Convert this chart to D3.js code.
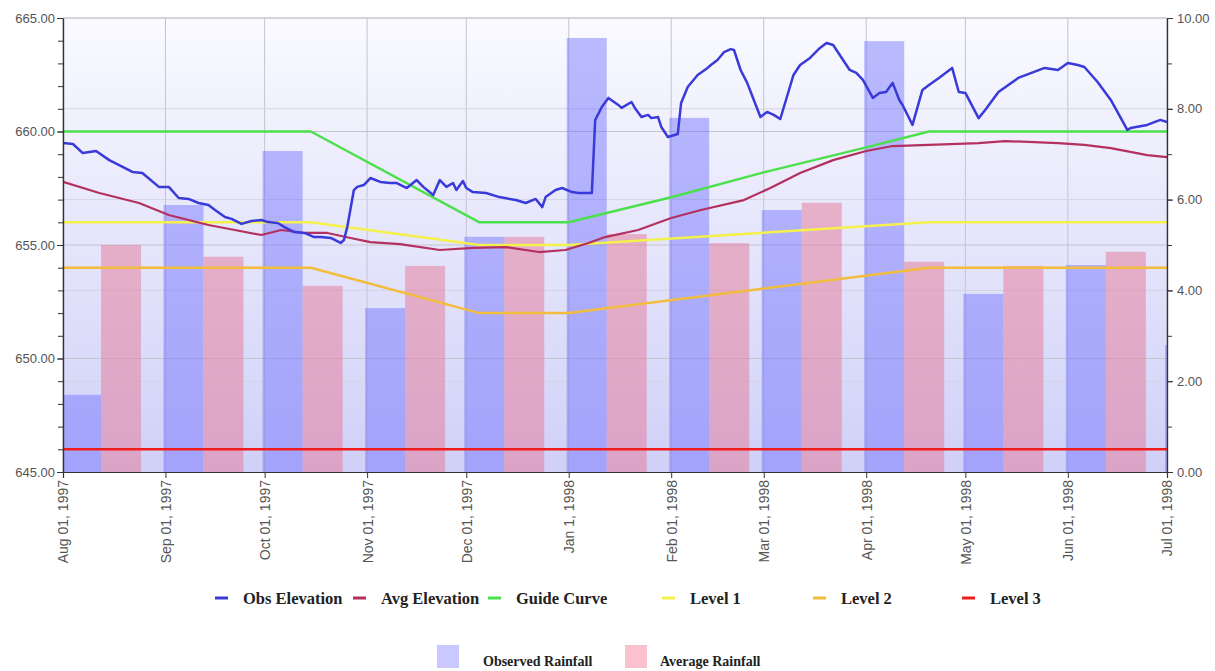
<!DOCTYPE html>
<html>
<head>
<meta charset="utf-8">
<script src="https://cdn.jsdelivr.net/npm/d3@7"></script>
<style>
  body { margin: 0; background: #fff; }
  svg { display: block; }
</style>
</head>
<body>
<div id="chart"></div>
<script>
// ---- data ----
const tickDates = ["1997-08-01","1997-09-01","1997-10-01","1997-11-01","1997-12-01","1998-01-01",
  "1998-02-01","1998-03-01","1998-04-01","1998-05-01","1998-06-01","1998-07-01"];
const tickLabels = ["Aug 01, 1997","Sep 01, 1997","Oct 01, 1997","Nov 01, 1997","Dec 01, 1997","Jan 1, 1998",
  "Feb 01, 1998","Mar 01, 1998","Apr 01, 1998","May 01, 1998","Jun 01, 1998","Jul 01, 1998"];

const rainMonths = tickDates;
const observedRain = [1.70, 5.88, 7.07, 3.61, 5.18, 9.56, 7.80, 5.77, 9.49, 3.92, 4.56, 2.80];
const averageRain  = [5.00, 4.74, 4.10, 4.54, 5.18, 5.24, 5.04, 5.93, 4.63, 4.54, 4.85];

const obsDates = ["1997-08-01","1997-08-04","1997-08-07","1997-08-11","1997-08-15","1997-08-18","1997-08-22",
  "1997-08-25","1997-08-30","1997-09-02","1997-09-05","1997-09-08","1997-09-11","1997-09-14","1997-09-16",
  "1997-09-19","1997-09-21","1997-09-24","1997-09-27","1997-09-30","1997-10-02","1997-10-05","1997-10-07",
  "1997-10-10","1997-10-13","1997-10-16","1997-10-18","1997-10-21","1997-10-24","1997-10-25","1997-10-26",
  "1997-10-28","1997-10-29","1997-10-31","1997-11-02","1997-11-05","1997-11-08","1997-11-10","1997-11-13",
  "1997-11-16","1997-11-18","1997-11-21","1997-11-23","1997-11-25","1997-11-27","1997-11-28","1997-11-30",
  "1997-12-01","1997-12-03","1997-12-07","1997-12-11","1997-12-16","1997-12-19","1997-12-22","1997-12-24",
  "1997-12-25","1997-12-28","1997-12-30","1998-01-02","1998-01-04","1998-01-07","1998-01-08","1998-01-09",
  "1998-01-11","1998-01-13","1998-01-16","1998-01-17","1998-01-20","1998-01-21","1998-01-23","1998-01-25",
  "1998-01-26","1998-01-28","1998-01-29","1998-01-31","1998-02-03","1998-02-04","1998-02-06","1998-02-09",
  "1998-02-12","1998-02-13","1998-02-15","1998-02-17","1998-02-19","1998-02-20","1998-02-22","1998-02-24",
  "1998-02-26","1998-02-28","1998-03-02","1998-03-04","1998-03-06","1998-03-08","1998-03-10","1998-03-12",
  "1998-03-15","1998-03-18","1998-03-20","1998-03-22","1998-03-25","1998-03-27","1998-03-29","1998-03-31",
  "1998-04-03","1998-04-05","1998-04-07","1998-04-09","1998-04-11","1998-04-12","1998-04-15","1998-04-18",
  "1998-04-20","1998-04-23","1998-04-27","1998-04-29","1998-05-01","1998-05-05","1998-05-07","1998-05-11",
  "1998-05-17","1998-05-25","1998-05-29","1998-06-01","1998-06-04","1998-06-06","1998-06-10","1998-06-14",
  "1998-06-19","1998-06-20","1998-06-25","1998-06-29","1998-07-01"];
const obsElevation = [659.49,659.45,659.05,659.14,658.74,658.52,658.22,
  658.17,657.56,657.56,657.07,657.03,656.85,656.76,656.54,
  656.23,656.15,655.93,656.06,656.10,656.01,655.97,655.79,
  655.57,655.53,655.35,655.35,655.31,655.09,655.22,655.79,
  657.42,657.56,657.64,657.95,657.78,657.73,657.73,657.51,
  657.86,657.56,657.20,657.86,657.56,657.73,657.42,657.82,
  657.51,657.33,657.29,657.11,656.98,656.85,657.03,656.67,
  657.11,657.42,657.51,657.33,657.29,657.29,657.29,660.50,
  661.08,661.48,661.17,661.04,661.30,661.04,660.64,660.73,
  660.59,660.64,660.20,659.76,659.89,661.26,661.96,662.49,
  662.80,662.93,663.15,663.50,663.63,663.59,662.71,662.14,
  661.39,660.64,660.86,660.73,660.55,661.52,662.49,662.93,
  663.24,663.68,663.90,663.81,663.15,662.71,662.58,662.27,
  661.48,661.70,661.74,662.14,661.39,661.17,660.29,661.83,
  662.05,662.36,662.80,661.74,661.70,660.59,660.95,661.74,
  662.36,662.80,662.71,663.02,662.93,662.84,662.18,661.39,
  660.07,660.15,660.29,660.51,660.42];

const avgDates = ["1997-08-01","1997-08-12","1997-08-24","1997-09-02","1997-09-08","1997-09-14","1997-09-22",
  "1997-09-30","1997-10-06","1997-10-13","1997-10-20","1997-10-27","1997-11-02","1997-11-11","1997-11-23",
  "1997-12-03","1997-12-13","1997-12-23","1997-12-31","1998-01-07","1998-01-12","1998-01-22","1998-02-01",
  "1998-02-10","1998-02-23","1998-03-03","1998-03-12","1998-03-22","1998-04-01","1998-04-09","1998-04-20",
  "1998-05-05","1998-05-13","1998-05-20","1998-05-29","1998-06-06","1998-06-14","1998-06-25","1998-07-01"];
const avgElevation = [657.78,657.29,656.85,656.32,656.10,655.88,655.66,
  655.44,655.66,655.53,655.53,655.31,655.13,655.04,654.78,
  654.87,654.91,654.69,654.78,655.09,655.35,655.66,656.19,
  656.54,656.98,657.51,658.17,658.74,659.14,659.36,659.41,
  659.49,659.58,659.54,659.49,659.41,659.27,658.96,658.87];

const guideDates = ["1997-08-01","1997-10-15","1997-12-05","1998-01-01","1998-02-01","1998-03-01","1998-04-01","1998-04-20","1998-07-01"];
const guideCurve = [660, 660, 656, 656, 657.1, 658.2, 659.3, 660, 660];

const levelDates = ["1997-08-01","1997-10-15","1997-12-05","1998-01-01","1998-04-20","1998-07-01"];
const level1 = [656, 656, 655, 655, 656, 656];
const level2 = [654, 654, 652, 652, 654, 654];
const level3 = [646, 646, 646, 646, 646, 646];

// ---- layout ----
const W = 1215, H = 671;
const margin = {top: 18, right: 48, bottom: 199, left: 63};
const width = W - margin.left - margin.right;
const height = H - margin.top - margin.bottom;
const parse = d3.timeParse("%Y-%m-%d");

const x = d3.scaleTime().domain([parse(tickDates[0]), parse(tickDates[tickDates.length - 1])]).range([0, width]);
const yL = d3.scaleLinear().domain([645, 665]).range([height, 0]);
const yR = d3.scaleLinear().domain([0, 10]).range([height, 0]);

const svg = d3.select("#chart").append("svg")
  .attr("width", W).attr("height", H)
  .style("font-family", "'Liberation Sans', Arial, sans-serif");

const defs = svg.append("defs");
const grad = defs.append("linearGradient").attr("id", "bg").attr("x1", 0).attr("y1", 0).attr("x2", 0).attr("y2", 1);
grad.append("stop").attr("offset", "0%").attr("stop-color", "#fafaff");
grad.append("stop").attr("offset", "100%").attr("stop-color", "#d0d0f8");
defs.append("clipPath").attr("id", "clip").append("rect").attr("width", width).attr("height", height);

const g = svg.append("g").attr("transform", "translate(" + margin.left + "," + margin.top + ")");

g.append("rect").attr("width", width).attr("height", height).attr("fill", "url(#bg)");

// gridlines
g.append("g").selectAll("line").data(tickDates).enter().append("line")
  .attr("x1", d => x(parse(d))).attr("x2", d => x(parse(d)))
  .attr("y1", 0).attr("y2", height)
  .attr("stroke", "#c4c4d0").attr("stroke-width", 1);
g.append("g").selectAll("line").data([650, 655, 660, 665]).enter().append("line")
  .attr("x1", 0).attr("x2", width)
  .attr("y1", d => yL(d)).attr("y2", d => yL(d))
  .attr("stroke", "#c4c4d0").attr("stroke-width", 1);
g.append("g").selectAll("line").data([2, 4, 6, 8]).enter().append("line")
  .attr("x1", 0).attr("x2", width)
  .attr("y1", d => yR(d)).attr("y2", d => yR(d))
  .attr("stroke", "#d4d4e4").attr("stroke-width", 1);

// rainfall bars
const barW = 40, barOff = -2;
const plot = g.append("g").attr("clip-path", "url(#clip)");
plot.append("g").selectAll("rect").data(observedRain).enter().append("rect")
  .attr("x", (d, i) => x(parse(rainMonths[i])) + barOff)
  .attr("width", barW)
  .attr("y", d => yR(d))
  .attr("height", d => height - yR(d))
  .attr("fill", "#6464ff").attr("fill-opacity", 0.42);
plot.append("g").selectAll("rect").data(averageRain).enter().append("rect")
  .attr("x", (d, i) => x(parse(rainMonths[i])) + barOff + barW)
  .attr("width", barW)
  .attr("y", d => yR(d))
  .attr("height", d => height - yR(d))
  .attr("fill", "#e67896").attr("fill-opacity", 0.5);

// lines
function series(dates, vals) { return dates.map((d, i) => ({date: parse(d), v: vals[i]})); }
const line = d3.line().x(d => x(d.date)).y(d => yL(d.v));
const lineSpecs = [
  {dates: levelDates, vals: level3, color: "#f01c1c", w: 2.5},
  {dates: levelDates, vals: level2, color: "#f2bc3c", w: 2.5},
  {dates: levelDates, vals: level1, color: "#f4f04c", w: 2.5},
  {dates: guideDates, vals: guideCurve, color: "#4ce04c", w: 2.5},
  {dates: avgDates, vals: avgElevation, color: "#b4305e", w: 2.2},
  {dates: obsDates, vals: obsElevation, color: "#3a3ad8", w: 2.5}
];
lineSpecs.forEach(s => {
  plot.append("path").datum(series(s.dates, s.vals))
    .attr("fill", "none").attr("stroke", s.color).attr("stroke-width", s.w)
    .attr("stroke-linejoin", "round")
    .attr("d", line);
});

// axes
const axisColor = "#333", labelColor = "#555";
function styleAxis(sel) {
  sel.select(".domain").attr("stroke", axisColor).attr("stroke-width", 1.2);
  sel.selectAll(".tick line").attr("stroke", axisColor);
  sel.selectAll("text").attr("fill", labelColor).style("font-size", "13px");
}
g.append("g").call(d3.axisLeft(yL).tickValues(d3.range(645, 666, 1)).tickFormat("").tickSize(5))
  .call(styleAxis);
g.append("g").call(d3.axisLeft(yL).tickValues([645, 650, 655, 660, 665]).tickFormat(d3.format(".2f")).tickSize(6).tickPadding(2))
  .call(styleAxis);
g.append("g").attr("transform", "translate(" + width + ",0)")
  .call(d3.axisRight(yR).tickValues(d3.range(0, 11, 1)).tickFormat("").tickSize(5)).call(styleAxis);
g.append("g").attr("transform", "translate(" + width + ",0)")
  .call(d3.axisRight(yR).tickValues([0, 2, 4, 6, 8, 10]).tickFormat(d3.format(".2f")).tickSize(6).tickPadding(4))
  .call(styleAxis);

const xAxis = g.append("g").attr("transform", "translate(0," + height + ")")
  .call(d3.axisBottom(x).tickValues(tickDates.map(parse)).tickFormat((d, i) => tickLabels[i]).tickSize(6))
  .call(styleAxis);
xAxis.selectAll("text")
  .attr("transform", "rotate(-90)")
  .attr("x", -8).attr("y", 0).attr("dy", "0.35em")
  .style("text-anchor", "end").style("font-size", "14px");

// top border
g.append("line").attr("x1", 0).attr("x2", width).attr("y1", 0).attr("y2", 0)
  .attr("stroke", "#c8c8d0");

// legend row 1
const legend1 = [
  {name: "Obs Elevation", color: "#3a3ad8", x: 243},
  {name: "Avg Elevation", color: "#b4305e", x: 381},
  {name: "Guide Curve", color: "#4ce04c", x: 516},
  {name: "Level 1", color: "#f4f04c", x: 690},
  {name: "Level 2", color: "#f2bc3c", x: 841},
  {name: "Level 3", color: "#f01c1c", x: 990}
];
const lg1 = svg.append("g").style("font-family", "'Liberation Serif', 'Times New Roman', serif")
  .style("font-weight", "bold").style("font-size", "16.5px");
lg1.selectAll("line").data(legend1).enter().append("line")
  .attr("x1", d => d.x - 28).attr("x2", d => d.x - 15)
  .attr("y1", 598).attr("y2", 598)
  .attr("stroke", d => d.color).attr("stroke-width", 3);
lg1.selectAll("text").data(legend1).enter().append("text")
  .attr("x", d => d.x).attr("y", 604)
  .attr("fill", "#222")
  .text(d => d.name);

// legend row 2
const legend2 = [
  {name: "Observed Rainfall", color: "#6464ff", op: 0.35, x: 437, tx: 483},
  {name: "Average Rainfall", color: "#f27890", op: 0.45, x: 625, tx: 660}
];
const lg2 = svg.append("g").style("font-family", "'Liberation Serif', 'Times New Roman', serif")
  .style("font-weight", "bold").style("font-size", "14px");
lg2.selectAll("rect").data(legend2).enter().append("rect")
  .attr("x", d => d.x).attr("y", 645).attr("width", 22).attr("height", 23)
  .attr("fill", d => d.color).attr("fill-opacity", d => d.op);
lg2.selectAll("text").data(legend2).enter().append("text")
  .attr("x", d => d.tx).attr("y", 666)
  .attr("fill", "#222")
  .text(d => d.name);
</script>
</body>
</html>
